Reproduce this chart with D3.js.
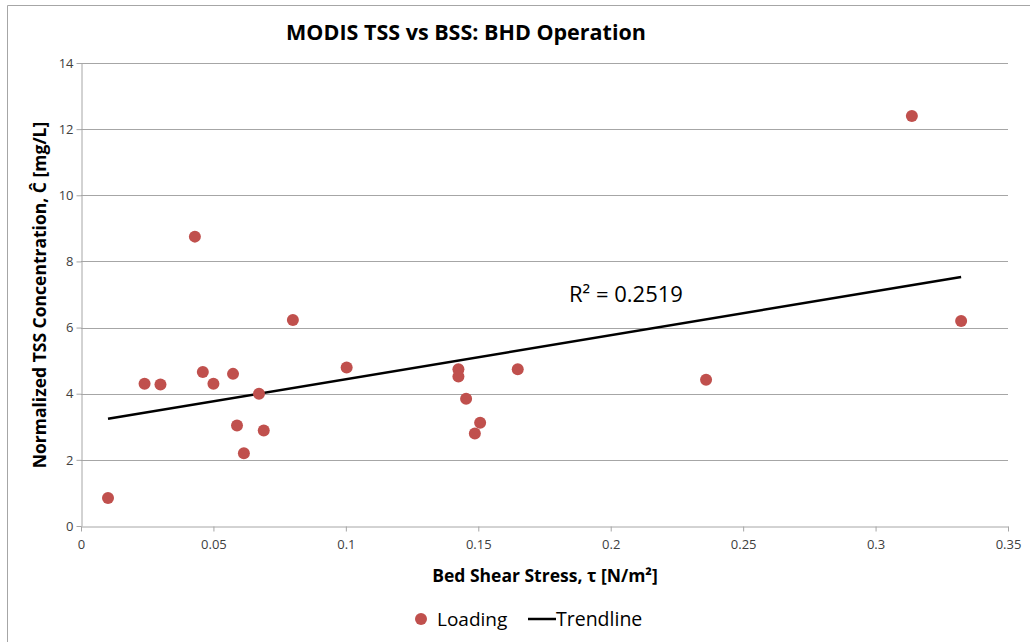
<!DOCTYPE html>
<html>
<head>
<meta charset="UTF-8">
<title>MODIS TSS vs BSS: BHD Operation</title>
<script src="https://cdn.jsdelivr.net/npm/d3@7"></script>
<style>
    body, html { margin: 0; padding: 0; background: #fff; }
    svg text { font-family: "Open Sans", "Liberation Sans", sans-serif; }
</style>
</head>
<body>
<svg id="chart" width="1030" height="642"></svg>
<script>
    // bed shear stress (N/m2) and normalized TSS (mg/L)
    var stress = [0.0102, 0.024, 0.030, 0.043, 0.046, 0.050, 0.0574, 0.0589, 0.0615, 0.0672, 0.069,
        0.080, 0.1003, 0.1425, 0.1425, 0.1454, 0.1507, 0.1487, 0.1649, 0.236, 0.3137, 0.3323];
    var tss = [0.85, 4.30, 4.28, 8.75, 4.66, 4.30, 4.60, 3.04, 2.20, 4.00, 2.89,
        6.23, 4.79, 4.74, 4.52, 3.85, 3.12, 2.80, 4.74, 4.42, 12.4, 6.20];
    var trendX = [0.0102, 0.3323];
    var trendY = [3.24, 7.53];
    var xTicks = [0, 0.05, 0.1, 0.15, 0.2, 0.25, 0.3, 0.35];
    var yTicks = [0, 2, 4, 6, 8, 10, 12, 14];

    var svg = d3.select("#chart");

    // chart frame (left and top edges visible)
    svg.append("path")
        .attr("d", "M7.5,642 L7.5,5.5 L1030,5.5")
        .attr("fill", "none")
        .attr("stroke", "#a6a6a6");

    var x = d3.scaleLinear().domain([0, 0.35]).range([81, 1008]);
    var y = d3.scaleLinear().domain([0, 14]).range([526, 63]);

    // horizontal gridlines
    svg.selectAll(".grid")
        .data(yTicks.slice(1))
        .enter()
        .append("line")
        .attr("class", "grid")
        .attr("x1", x(0)).attr("x2", x(0.35))
        .attr("y1", function (d) { return Math.round(y(d)) + 0.5; })
        .attr("y2", function (d) { return Math.round(y(d)) + 0.5; })
        .attr("stroke", "#a6a6a6");

    var xAxis = svg.append("g")
        .attr("transform", "translate(0," + (Math.round(y(0)) + 0.5) + ")")
        .call(d3.axisBottom(x).tickValues(xTicks).tickSize(5).tickSizeOuter(0)
            .tickFormat(function (d) { return d === 0 ? "0" : String(+d.toFixed(2)); }));
    var yAxis = svg.append("g")
        .attr("transform", "translate(" + (Math.round(x(0)) + 0.5) + ",0)")
        .call(d3.axisLeft(y).tickValues(yTicks).tickSize(5).tickSizeOuter(0));

    [xAxis, yAxis].forEach(function (g) {
        g.select(".domain").attr("stroke", "#a6a6a6");
        g.selectAll(".tick line").attr("stroke", "#a6a6a6");
        g.selectAll(".tick text")
            .attr("fill", "#404040")
            .attr("font-size", "13px")
            .style("font-family", "'Open Sans', sans-serif");
    });
    xAxis.selectAll(".tick text").attr("dy", "1.1em");
    yAxis.selectAll(".tick text").attr("x", -8);

    // trendline
    svg.append("line")
        .attr("x1", x(trendX[0])).attr("y1", y(trendY[0]))
        .attr("x2", x(trendX[1])).attr("y2", y(trendY[1]))
        .attr("stroke", "#000")
        .attr("stroke-width", 2.5);

    // points
    svg.selectAll(".dot")
        .data(stress)
        .enter()
        .append("circle")
        .attr("class", "dot")
        .attr("cx", function (d) { return x(d); })
        .attr("cy", function (d, i) { return y(tss[i]); })
        .attr("r", 6)
        .attr("fill", "#c0504d");

    svg.append("text")
        .text("R² = 0.2519")
        .attr("x", 569).attr("y", 302)
        .attr("font-size", "22px")
        .attr("fill", "#000");

    // titles
    svg.append("text")
        .text("MODIS TSS vs BSS: BHD Operation")
        .attr("x", 466).attr("y", 40)
        .attr("text-anchor", "middle")
        .attr("font-size", "21.5px")
        .attr("font-weight", "bold");

    svg.append("text")
        .text("Bed Shear Stress, τ [N/m²]")
        .attr("x", 545).attr("y", 582)
        .attr("text-anchor", "middle")
        .attr("font-size", "17.5px")
        .attr("font-weight", "bold");

    svg.append("text")
        .text("Normalized TSS Concentration, Ĉ [mg/L]")
        .attr("transform", "translate(46,295) rotate(-90)")
        .attr("text-anchor", "middle")
        .attr("font-size", "17.5px")
        .attr("font-weight", "bold");

    // legend
    var legend = svg.append("g");
    legend.append("circle").attr("cx", 421).attr("cy", 619).attr("r", 6).attr("fill", "#c0504d");
    legend.append("text").text("Loading").attr("x", 437).attr("y", 626).attr("font-size", "19px");
    legend.append("line").attr("x1", 528).attr("x2", 556).attr("y1", 619).attr("y2", 619)
        .attr("stroke", "#000").attr("stroke-width", 2.5);
    legend.append("text").text("Trendline").attr("x", 556).attr("y", 626).attr("font-size", "19.5px");
</script>
</body>
</html>
